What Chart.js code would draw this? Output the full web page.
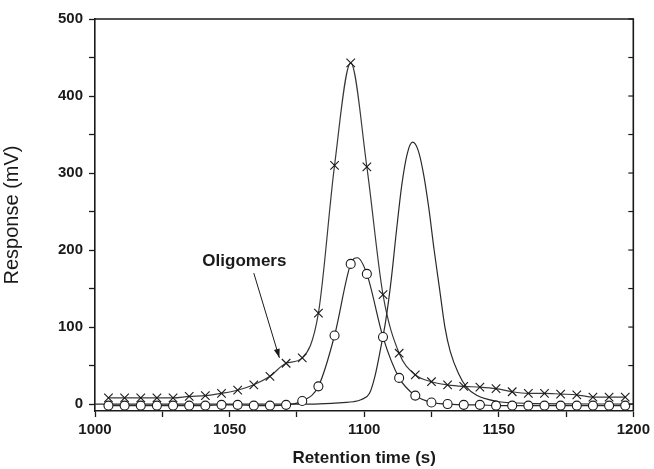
<!DOCTYPE html>
<html>
<head>
<meta charset="utf-8">
<script src="https://cdn.jsdelivr.net/npm/chart.js@4.4.1/dist/chart.umd.min.js"></script>
<style>
  html, body { margin: 0; padding: 0; background: #fff; }
  #wrap { width: 654px; height: 469px; position: relative; }
</style>
</head>
<body>
<div id="wrap"><canvas id="chromChart"></canvas></div>
<script>
// --- data ---
const sampleTimes = [1005, 1011, 1017, 1023, 1029, 1035, 1041, 1047, 1053, 1059, 1065,
                     1071, 1077, 1083, 1089, 1095, 1101, 1107, 1113, 1119, 1125, 1131,
                     1137, 1143, 1149, 1155, 1161, 1167, 1173, 1179, 1185, 1191, 1197];
const crossValues = [8, 8, 8, 8, 8, 10, 11, 14, 18, 25, 36,
                     53, 60, 118, 310, 443, 308, 142, 66, 38, 29, 25,
                     23, 22, 20, 16, 14, 14, 13, 12, 9, 9, 9];
const circleValues = [-2, -2, -2, -2, -2, -2, -2, -1, -1, -2, -2,
                      -1, 4, 23, 89, 182, 169, 87, 34, 11, 2, 0,
                      -1, -1, -2, -2, -2, -2, -2, -2, -2, -2, -2];
// fitted curve of the circle trace peaks between two samples
const circlePeak = { x: 1097.5, y: 190 };

const plainTimes = [1000, 1080, 1088, 1092, 1096, 1099, 1102, 1104, 1106, 1108, 1110, 1112,
                    1114, 1116, 1118, 1120, 1122, 1124, 1126, 1128, 1130, 1132, 1135, 1138,
                    1142, 1146, 1150, 1160, 1200];
const plainValues = [0, 0, 1, 2, 3, 6, 14, 36, 70, 108, 160, 225,
                     285, 325, 340, 330, 300, 255, 200, 150, 100, 68, 40, 22,
                     11, 6, 3, 1, 0];

const xTicks = [1000, 1025, 1050, 1075, 1100, 1125, 1150, 1175, 1200];
const yTicks = [0, 50, 100, 150, 200, 250, 300, 350, 400, 450, 500];

const noteText = 'Oligomers';
const noteLabelAt = { x: 1055.5, y: 186 };
const noteArrowFrom = { x: 1059, y: 170 };
const noteArrowTo = { x: 1068.5, y: 60 };

const INK = '#1a1a1a';
const FONT = '"Liberation Sans", Arial, Helvetica, sans-serif';

const toPts = (xs, ys) => xs.map((x, i) => ({ x, y: ys[i] }));
const circleCurve = toPts(sampleTimes, circleValues).concat([circlePeak]).sort((a, b) => a.x - b.x);

// frame, inward ticks on the right side and the annotation
const framePlugin = {
    id: 'frame',
    afterDatasetsDraw(chart) {
        const { ctx, chartArea: a, scales } = chart;
        ctx.save();
        ctx.strokeStyle = INK;
        ctx.lineWidth = 1.6;
        ctx.beginPath();
        ctx.moveTo(a.left, a.top);
        ctx.lineTo(a.right, a.top);
        ctx.lineTo(a.right, a.bottom);
        ctx.stroke();
        ctx.lineWidth = 1.2;
        yTicks.forEach(v => {
            const y = scales.y.getPixelForValue(v);
            ctx.beginPath();
            ctx.moveTo(a.right, y);
            ctx.lineTo(a.right - 5, y);
            ctx.stroke();
        });

        // annotation
        const x0 = scales.x.getPixelForValue(noteArrowFrom.x), y0 = scales.y.getPixelForValue(noteArrowFrom.y);
        const x1 = scales.x.getPixelForValue(noteArrowTo.x), y1 = scales.y.getPixelForValue(noteArrowTo.y);
        ctx.lineWidth = 1;
        ctx.beginPath();
        ctx.moveTo(x0, y0);
        ctx.lineTo(x1, y1);
        ctx.stroke();
        const ang = Math.atan2(y1 - y0, x1 - x0);
        ctx.fillStyle = INK;
        ctx.beginPath();
        ctx.moveTo(x1, y1);
        ctx.lineTo(x1 - 9 * Math.cos(ang) + 3 * Math.sin(ang), y1 - 9 * Math.sin(ang) - 3 * Math.cos(ang));
        ctx.lineTo(x1 - 9 * Math.cos(ang) - 3 * Math.sin(ang), y1 - 9 * Math.sin(ang) + 3 * Math.cos(ang));
        ctx.closePath();
        ctx.fill();
        ctx.font = 'bold 17px ' + FONT;
        ctx.textAlign = 'center';
        ctx.textBaseline = 'middle';
        ctx.fillText(noteText, scales.x.getPixelForValue(noteLabelAt.x), scales.y.getPixelForValue(noteLabelAt.y));
        ctx.restore();
    }
};

const lineStyle = {
    showLine: true,
    pointRadius: 0,
    borderWidth: 1.2,
    cubicInterpolationMode: 'monotone',
    fill: false,
    order: 2
};

new Chart(document.getElementById('chromChart'), {
    type: 'scatter',
    data: {
        datasets: [
            { ...lineStyle, data: toPts(plainTimes, plainValues), borderColor: '#2a2a2a' },
            { ...lineStyle, data: toPts(sampleTimes, crossValues), borderColor: '#3a3a3a' },
            { ...lineStyle, data: circleCurve, borderColor: '#2a2a2a' },
            {
                data: toPts(sampleTimes, crossValues), showLine: false, order: 1,
                pointStyle: 'crossRot', pointRadius: 6, borderColor: INK, borderWidth: 1.1
            },
            {
                data: toPts(sampleTimes, circleValues), showLine: false, order: 0,
                pointStyle: 'circle', pointRadius: 4.5, backgroundColor: '#fff', borderColor: INK, borderWidth: 1.1
            }
        ]
    },
    options: {
        responsive: true,
        maintainAspectRatio: false,
        animation: false,
        layout: { padding: { top: 19, right: 18, left: 0, bottom: 0 } },
        plugins: { legend: { display: false }, tooltip: { enabled: false } },
        scales: {
            x: {
                type: 'linear', min: 1000, max: 1200,
                afterBuildTicks: s => { s.ticks = xTicks.map(v => ({ value: v })); },
                afterFit: s => { s.height = 58; },
                grid: { drawOnChartArea: false, tickLength: 6, tickColor: INK, tickWidth: 1.3 },
                border: { color: INK, width: 1.6 },
                ticks: {
                    autoSkip: false, maxRotation: 0, padding: 4, color: INK,
                    font: { family: FONT, size: 15, weight: 'bold' },
                    callback: v => (v % 50 === 0 ? v : '')
                },
                title: {
                    display: true, text: 'Retention time (s)', color: INK, padding: { top: 2, bottom: 0 },
                    font: { family: FONT, size: 17, weight: 'bold' }
                }
            },
            y: {
                type: 'linear', min: -9, max: 500,
                afterBuildTicks: s => { s.ticks = yTicks.map(v => ({ value: v })); },
                afterFit: s => { s.width = 95; },
                grid: { drawOnChartArea: false, tickLength: 6, tickColor: INK, tickWidth: 1.3 },
                border: { color: INK, width: 1.6 },
                ticks: {
                    autoSkip: false, padding: 6, color: INK,
                    font: { family: FONT, size: 15, weight: 'bold' },
                    callback: v => (v % 100 === 0 ? v : '')
                },
                title: {
                    display: true, text: 'Response (mV)', color: INK, padding: { top: 0, bottom: 0 },
                    font: { family: FONT, size: 20, weight: 'normal' }
                }
            }
        }
    },
    plugins: [framePlugin]
});
</script>
</body>
</html>
